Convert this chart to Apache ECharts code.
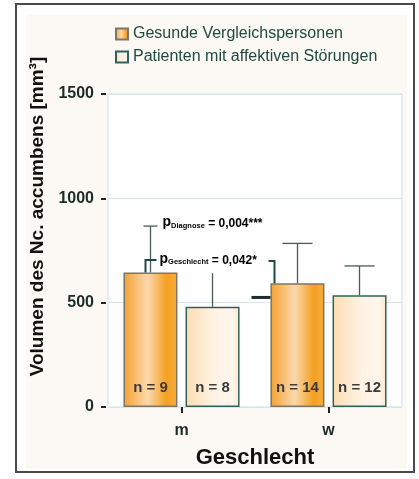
<!DOCTYPE html>
<html><head><meta charset="utf-8">
<script src="https://cdn.jsdelivr.net/npm/echarts@6/dist/echarts.min.js"></script>
<style>html,body{margin:0;padding:0;background:#fff}#c{width:419px;height:479px}</style>
</head><body><div id="c"></div>
<script>
// ---- data ----
const categories = ['m', 'w'];
const seriesNames = ['Gesunde Vergleichspersonen', 'Patienten mit affektiven Störungen'];
const gesund = [645, 593];
const patienten = [480, 535];
const gesundErrTop = [867, 784];
const patientenErrTop = [641, 676];
const nGesund = [9, 14];
const nPatienten = [8, 12];
const yTicks = [0, 500, 1000, 1500];
const pDiagnoseText = '0,004***';
const pGeschlechtText = '0,042*';
const bracketLevel = 705;      // value of the pGeschlecht bracket
const pDiagnoseLevel = 886;    // value where pDiagnose text sits
const markLevel = 525;         // short dark line next to the w bar

// ---- style ----
const FONT = 'Liberation Sans, Arial, Helvetica, sans-serif';
const DARK = '#1e4a40';
const BARW = 54;
const HALF = 31; // half distance between bar centers in a group

const gesundFill = new echarts.graphic.LinearGradient(0, 0, 1, 0, [
  {offset: 0, color: '#f3a232'}, {offset: 0.45, color: '#fcd8ac'},
  {offset: 0.8, color: '#f4a020'}, {offset: 1, color: '#f6ae40'}]);
const patFill = new echarts.graphic.LinearGradient(0, 0, 1, 0, [
  {offset: 0, color: '#fcdcb2'}, {offset: 0.5, color: '#fff2e2'},
  {offset: 0.85, color: '#fff6ec'}, {offset: 1, color: '#fde8cc'}]);

function errRender(offset, caps) {
  return function (params, api) {
    const base = api.coord([api.value(0), api.value(1)]);
    const top = api.coord([api.value(0), api.value(2)]);
    const cx = base[0] + offset;
    const hw = caps[params.dataIndex];
    const st = {stroke: '#4a5a56', lineWidth: 1.3};
    const ch = [{type: 'line', shape: {x1: cx, y1: base[1], x2: cx, y2: top[1]}, style: st}];
    if (hw > 0) ch.push({type: 'line', shape: {x1: cx - hw, y1: top[1], x2: cx + hw, y2: top[1]}, style: st});
    return {type: 'group', children: ch};
  };
}

const labelStyle = {show: true, position: 'insideBottom', distance: 12, fontFamily: FONT, fontSize: 15,
  fontWeight: 'bold', color: '#3b3b3b'};

const chart = echarts.init(document.getElementById('c'));
chart.setOption({
  animation: false,
  backgroundColor: '#fff',
  graphic: [
    {type: 'rect', z: -10, shape: {x: 16, y: 4, width: 398, height: 468}, style: {fill: '#fff', stroke: '#4a4a4a', lineWidth: 2}},
    {type: 'rect', z: -9, shape: {x: 26, y: 15, width: 381, height: 454}, style: {fill: '#fcf9f4'}}
  ],
  legend: {
    orient: 'vertical', left: 115, top: 26, padding: 0, itemWidth: 12, itemHeight: 11, itemGap: 7,
    icon: 'rect', data: seriesNames,
    textStyle: {fontFamily: FONT, fontSize: 16, color: DARK}
  },
  grid: {left: 108, right: 17, top: 94, bottom: 72, show: true, backgroundColor: '#fefefe', borderColor: '#cde3ee', borderWidth: 1},
  xAxis: {
    type: 'category', data: categories,
    name: 'Geschlecht', nameLocation: 'middle', nameGap: 40,
    nameTextStyle: {fontFamily: FONT, fontSize: 22, fontWeight: 'bold', color: '#111'},
    axisLine: {show: false},
    axisTick: {show: true, alignWithLabel: true, length: 6, lineStyle: {color: '#222', width: 2}},
    axisLabel: {fontFamily: FONT, fontSize: 16, fontWeight: 'bold', color: '#1c2b28', margin: 16}
  },
  yAxis: {
    type: 'value', min: 0, max: 1500, interval: 500, offset: 2,
    name: 'Volumen des Nc. accumbens [mm³]', nameLocation: 'middle', nameGap: 47,
    nameTextStyle: {fontFamily: FONT, fontSize: 19, fontWeight: 'bold', color: '#111', padding: [0, 0, 0, 68]},
    axisLine: {show: false},
    axisTick: {show: true, length: 5, lineStyle: {color: '#222', width: 2}},
    splitLine: {lineStyle: {color: '#d3e7f1', width: 1}},
    axisLabel: {fontFamily: FONT, fontSize: 16, fontWeight: 'bold', color: '#1c2b28', margin: 12,
      customValues: yTicks, formatter: v => String(v)}
  },
  series: [
    {name: seriesNames[0], type: 'bar', data: gesund, barWidth: BARW, barGap: '15%',
      itemStyle: {color: gesundFill, borderColor: '#7d7566', borderWidth: 1.5},
      label: Object.assign({formatter: p => 'n = ' + nGesund[p.dataIndex]}, labelStyle)},
    {name: seriesNames[1], type: 'bar', data: patienten, barWidth: BARW,
      itemStyle: {color: patFill, borderColor: '#2f625c', borderWidth: 1.5},
      label: Object.assign({formatter: p => 'n = ' + nPatienten[p.dataIndex]}, labelStyle)},
    {type: 'custom', z: 5, renderItem: errRender(-HALF, [7, 15]),
      data: categories.map((c, i) => [i, gesund[i], gesundErrTop[i]])},
    {type: 'custom', z: 5, renderItem: errRender(HALF, [0, 15]),
      data: categories.map((c, i) => [i, patienten[i], patientenErrTop[i]])},
    {type: 'custom', z: 6, data: [[0]], renderItem: function (params, api) {
      const m1 = api.coord([0, gesund[0]]);
      const w1 = api.coord([1, gesund[1]]);
      const lvl = api.coord([0, bracketLevel])[1];
      const dLvl = api.coord([0, pDiagnoseLevel])[1];
      const mk = api.coord([1, markLevel]);
      const xl = m1[0] - HALF - 5, xr = w1[0] - HALF - 23;
      const st = {stroke: DARK, lineWidth: 2, fill: 'none'};
      const rich = {
        p: {fontFamily: FONT, fontSize: 14, fontWeight: 'bold', color: DARK, verticalAlign: 'bottom', lineHeight: 15},
        s: {fontFamily: FONT, fontSize: 7.5, fontWeight: 'bold', color: DARK, verticalAlign: 'bottom', lineHeight: 12},
        t: {fontFamily: FONT, fontSize: 12, fontWeight: 'bold', color: DARK, verticalAlign: 'bottom', lineHeight: 15}
      };
      return {type: 'group', children: [
        {type: 'polyline', shape: {points: [[xl, m1[1]], [xl, lvl], [xl + 11, lvl]]}, style: st},
        {type: 'polyline', shape: {points: [[xr - 6, lvl + 1], [xr, lvl + 1], [xr, w1[1]]]}, style: st},
        {type: 'line', shape: {x1: mk[0] - HALF - BARW / 2 - 19, y1: mk[1], x2: mk[0] - HALF - BARW / 2, y2: mk[1]},
          style: {stroke: '#1f2d2a', lineWidth: 3}},
        {type: 'text', style: {x: xl + 14, y: lvl - 1, text: '{p|p}{s|Geschlecht}{t| = ' + pGeschlechtText + '}',
          rich: rich, verticalAlign: 'middle'}},
        {type: 'text', style: {x: xl + 17, y: dLvl, text: '{p|p}{s|Diagnose}{t| = ' + pDiagnoseText + '}',
          rich: rich, verticalAlign: 'middle'}}
      ]};
    }}
  ]
});
</script></body></html>
